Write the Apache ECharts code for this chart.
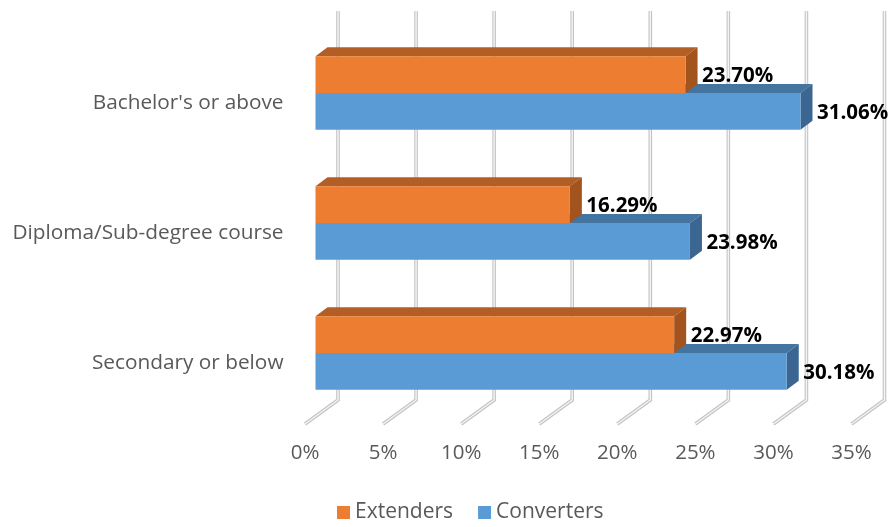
<!DOCTYPE html>
<html><head><meta charset="utf-8">
<script src="https://cdn.jsdelivr.net/npm/echarts@6/dist/echarts.min.js"></script>
<style>html,body{margin:0;padding:0;background:#fff}#c{width:892px;height:527px}</style>
</head><body><div id="c"></div>
<script>
const categories = ["Bachelor's or above", "Diploma/Sub-degree course", "Secondary or below"];
const extenders = [23.70, 16.29, 22.97];
const converters = [31.06, 23.98, 30.18];
const xTicks = [0, 5, 10, 15, 20, 25, 30, 35];
const seriesNames = ['Extenders', 'Converters'];

const FONT = 'Open Sans';
const DEPTH = [12, -9];
const WALL_DX = 22.5, FLOOR_DX = -10.5;

const chart = echarts.init(document.getElementById('c'), null, {renderer: 'canvas'});

function gridItem(params, api) {
  const v = api.value(0);
  const p = api.coord([v, 0]);
  const cs = params.coordSys;
  const x = p[0];
  const yTop = cs.y - 17;
  const yWall = cs.y + cs.height - 18;
  const yFront = cs.y + cs.height + 6;
  const pts = [[x + WALL_DX, yTop], [x + WALL_DX, yWall], [x + FLOOR_DX, yFront]];
  return {
    type: 'group',
    children: [
      {type: 'polyline', shape: {points: pts}, style: {stroke: '#c4c4c4', lineWidth: 3.6, fill: null, lineJoin: 'miter'}},
      {type: 'polyline', shape: {points: pts}, style: {stroke: '#f4f4f4', lineWidth: 1.4, fill: null, lineJoin: 'miter'}}
    ]
  };
}

function barRenderer(cols, upper) {
  return function (params, api) {
    const v = api.value(0);
    const ci = api.value(1);
    const p0 = api.coord([0, ci]);
    const p1 = api.coord([v, ci]);
    const band = api.size([0, 1])[1];
    const h = band * 0.283;
    const x0 = p0[0], x1 = p1[0];
    const yt = upper ? p0[1] - h : p0[1];
    const yb = upper ? p0[1] : p0[1] + h;
    const dx = DEPTH[0], dy = DEPTH[1];
    return {
      type: 'group',
      children: [
        {type: 'polygon', shape: {points: [[x0, yt], [x1, yt], [x1 + dx, yt + dy], [x0 + dx, yt + dy]]}, style: {fill: cols.top}},
        {type: 'polygon', shape: {points: [[x1, yt], [x1 + dx, yt + dy], [x1 + dx, yb + dy], [x1, yb]]}, style: {fill: cols.side}},
        {type: 'rect', shape: {x: x0, y: yt, width: x1 - x0, height: yb - yt}, style: {fill: cols.front}},
        {type: 'text', x: x1 + dx + 4.5, y: (yt + yb) / 2 + 2,
          style: {text: v.toFixed(2) + '%', fill: '#000', font: 'bold 20.5px "' + FONT + '"', verticalAlign: 'middle', align: 'left'}}
      ]
    };
  };
}

const option = {
  animation: false,
  backgroundColor: '#fff',
  textStyle: {fontFamily: FONT},
  grid: {left: 315.5, right: 30, top: 28, bottom: 109, containLabel: false},
  legend: {
    data: seriesNames,
    top: 502, left: 337, padding: 0,
    icon: 'rect', itemWidth: 13, itemHeight: 13, itemGap: 25,
    textStyle: {color: '#595959', fontSize: 21, fontFamily: FONT}
  },
  xAxis: {
    type: 'value', min: 0, max: 35, interval: 5,
    axisLine: {show: false}, axisTick: {show: false}, splitLine: {show: false},
    axisLabel: {formatter: v => v + '%', color: '#595959', fontSize: 20.5, fontFamily: FONT, margin: 25, padding: [0, 21, 0, 0]}
  },
  yAxis: {
    type: 'category', inverse: true, data: categories,
    axisLine: {show: false}, axisTick: {show: false}, splitLine: {show: false},
    axisLabel: {color: '#595959', fontSize: 20.8, fontFamily: FONT, margin: 32, verticalAlign: 'top', lineHeight: 20}
  },
  series: [
    {
      type: 'custom', name: 'grid', silent: true, z: 1,
      data: xTicks.map(v => [v]),
      encode: {x: 0},
      renderItem: gridItem
    },
    {
      type: 'custom', name: seriesNames[1], z: 2,
      itemStyle: {color: '#5B9BD5'},
      data: converters.map((v, i) => [v, i]),
      encode: {x: 0, y: 1},
      renderItem: barRenderer({front: '#5B9BD5', top: '#4474A0', side: '#3B6691'}, false)
    },
    {
      type: 'custom', name: seriesNames[0], z: 3,
      itemStyle: {color: '#ED7D31'},
      data: extenders.map((v, i) => [v, i]),
      encode: {x: 0, y: 1},
      renderItem: barRenderer({front: '#ED7D31', top: '#B35E25', side: '#A3531E'}, true)
    }
  ]
};
chart.setOption(option);
</script></body></html>
